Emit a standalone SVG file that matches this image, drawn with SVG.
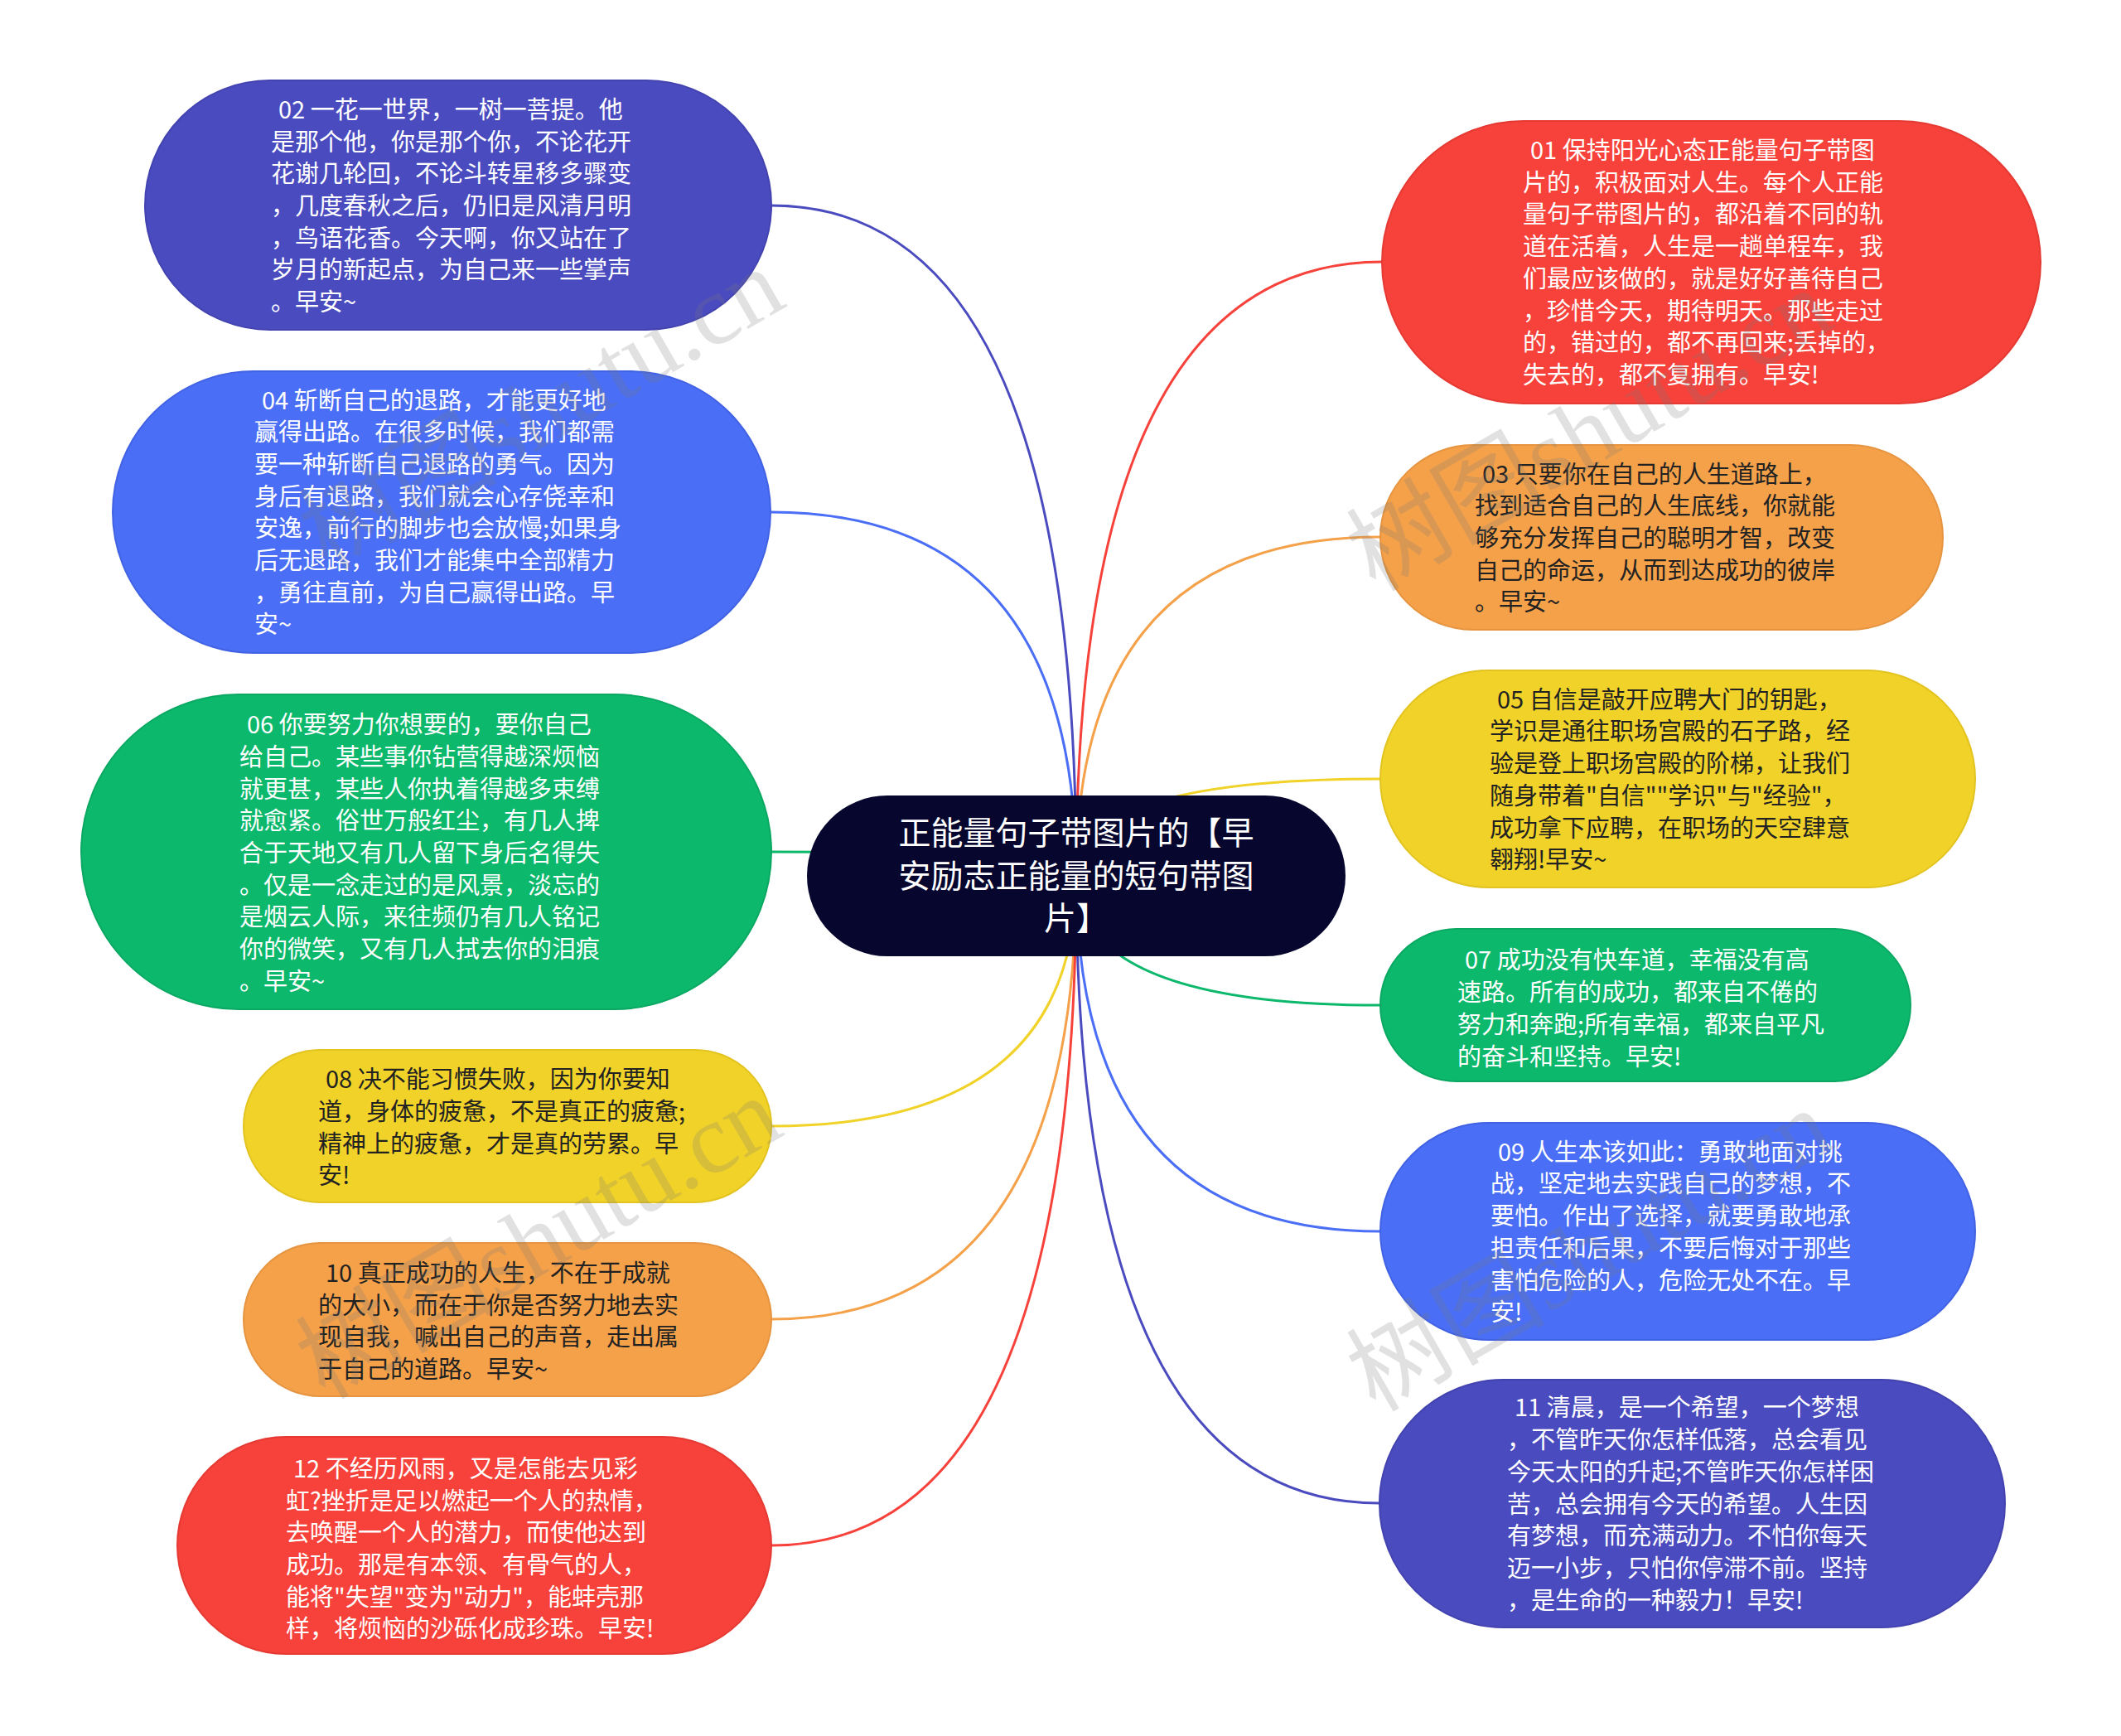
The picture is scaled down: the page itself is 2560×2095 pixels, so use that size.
<svg xmlns="http://www.w3.org/2000/svg" width="2560" height="2095" viewBox="0 0 2560 2095">
<style>
.bg{fill:#ffffff}
.c{fill:none;stroke-width:3;stroke-linecap:round}
.t{font-family:"Noto Sans CJK SC","Microsoft YaHei",sans-serif;font-size:29px}
.w{fill:#ffffff}
.d{fill:#222222}
.rt{font-family:"Noto Sans CJK SC","Microsoft YaHei",sans-serif;font-size:39px;fill:#ffffff;text-anchor:middle}
.indigo{fill:#4b4bc0;stroke:#4343b0;stroke-width:2}
.blue{fill:#4a6ef5;stroke:#4262e4;stroke-width:2}
.green{fill:#0cb86c;stroke:#0aa862;stroke-width:2}
.yellow{fill:#f1d229;stroke:#e2c320;stroke-width:2}
.orange{fill:#f4a14a;stroke:#e69440;stroke-width:2}
.red{fill:#f6423b;stroke:#e53a33;stroke-width:2}
.wm{font-family:"Liberation Serif","Noto Sans CJK SC",serif;font-size:120px;fill:#7a7a7a;opacity:0.22}
</style>
<rect class="bg" x="0" y="0" width="2560" height="2095"/>
<g id="connectors">
<path class="c" stroke="#4b4bc0" d="M1299 1057 Q1299 248 931 248"/>
<path class="c" stroke="#4a6ef5" d="M1299 1057 Q1299 618 930 618"/>
<path class="c" stroke="#0cb86c" d="M1299 1057 Q1299 1028 931 1028"/>
<path class="c" stroke="#f1d229" d="M1299 1057 Q1299 1359 931 1359"/>
<path class="c" stroke="#f4a14a" d="M1299 1057 Q1299 1592 931 1592"/>
<path class="c" stroke="#f6423b" d="M1299 1057 Q1299 1865 931 1865"/>
<path class="c" stroke="#f6423b" d="M1299 1057 Q1299 316 1668 316"/>
<path class="c" stroke="#f4a14a" d="M1299 1057 Q1299 648 1666 648"/>
<path class="c" stroke="#f1d229" d="M1299 1057 Q1299 940 1666 940"/>
<path class="c" stroke="#0cb86c" d="M1299 1057 Q1299 1213 1666 1213"/>
<path class="c" stroke="#4a6ef5" d="M1299 1057 Q1299 1486 1666 1486"/>
<path class="c" stroke="#4b4bc0" d="M1299 1057 Q1299 1814 1665 1814"/>
</g>
<g id="root">
<rect x="974" y="960" width="650" height="194" rx="97" fill="#06062e"/>
<text class="rt"><tspan x="1299" y="1019">正能量句子带图片的【早</tspan><tspan x="1299" y="1071">安励志正能量的短句带图</tspan><tspan x="1299" y="1122">片】</tspan></text>
</g>
<g id="node02">
<rect class="indigo" x="175" y="97" width="756" height="301" rx="150.5"/>
<text class="t w"><tspan x="336" y="143">02 一花一世界，一树一菩提。他</tspan><tspan x="327" y="182">是那个他，你是那个你，不论花开</tspan><tspan x="327" y="220">花谢几轮回，不论斗转星移多骤变</tspan><tspan x="327" y="259">，几度春秋之后，仍旧是风清月明</tspan><tspan x="327" y="298">，鸟语花香。今天啊，你又站在了</tspan><tspan x="327" y="336">岁月的新起点，为自己来一些掌声</tspan><tspan x="327" y="375">。早安~</tspan></text>
</g>
<g id="node04">
<rect class="blue" x="136" y="448" width="794" height="340" rx="170"/>
<text class="t w"><tspan x="316" y="494">04 斩断自己的退路，才能更好地</tspan><tspan x="307" y="532">赢得出路。在很多时候，我们都需</tspan><tspan x="307" y="571">要一种斩断自己退路的勇气。因为</tspan><tspan x="307" y="610">身后有退路，我们就会心存侥幸和</tspan><tspan x="307" y="648">安逸，前行的脚步也会放慢;如果身</tspan><tspan x="307" y="687">后无退路，我们才能集中全部精力</tspan><tspan x="307" y="726">，勇往直前，为自己赢得出路。早</tspan><tspan x="307" y="764">安~</tspan></text>
</g>
<g id="node06">
<rect class="green" x="98" y="838" width="833" height="380" rx="190"/>
<text class="t w"><tspan x="298" y="885">06 你要努力你想要的，要你自己</tspan><tspan x="289" y="924">给自己。某些事你钻营得越深烦恼</tspan><tspan x="289" y="963">就更甚，某些人你执着得越多束缚</tspan><tspan x="289" y="1001">就愈紧。俗世万般红尘，有几人捭</tspan><tspan x="289" y="1040">合于天地又有几人留下身后名得失</tspan><tspan x="289" y="1079">。仅是一念走过的是风景，淡忘的</tspan><tspan x="289" y="1117">是烟云人际，来往频仍有几人铭记</tspan><tspan x="289" y="1156">你的微笑，又有几人拭去你的泪痕</tspan><tspan x="289" y="1195">。早安~</tspan></text>
</g>
<g id="node08">
<rect class="yellow" x="294" y="1267" width="637" height="184" rx="92"/>
<text class="t d"><tspan x="393" y="1313">08 决不能习惯失败，因为你要知</tspan><tspan x="384" y="1352">道，身体的疲惫，不是真正的疲惫;</tspan><tspan x="384" y="1391">精神上的疲惫，才是真的劳累。早</tspan><tspan x="384" y="1429">安!</tspan></text>
</g>
<g id="node10">
<rect class="orange" x="294" y="1500" width="637" height="185" rx="92.5"/>
<text class="t d"><tspan x="393" y="1547">10 真正成功的人生，不在于成就</tspan><tspan x="384" y="1586">的大小，而在于你是否努力地去实</tspan><tspan x="384" y="1624">现自我，喊出自己的声音，走出属</tspan><tspan x="384" y="1663">于自己的道路。早安~</tspan></text>
</g>
<g id="node12">
<rect class="red" x="214" y="1734" width="717" height="262" rx="131"/>
<text class="t w"><tspan x="354" y="1783">12 不经历风雨，又是怎能去见彩</tspan><tspan x="345" y="1822">虹?挫折是足以燃起一个人的热情，</tspan><tspan x="345" y="1860">去唤醒一个人的潜力，而使他达到</tspan><tspan x="345" y="1899">成功。那是有本领、有骨气的人，</tspan><tspan x="345" y="1938">能将"失望"变为"动力"，能蚌壳那</tspan><tspan x="345" y="1976">样，将烦恼的沙砾化成珍珠。早安!</tspan></text>
</g>
<g id="node01">
<rect class="red" x="1668" y="146" width="795" height="341" rx="170.5"/>
<text class="t w"><tspan x="1847" y="192">01 保持阳光心态正能量句子带图</tspan><tspan x="1838" y="231">片的，积极面对人生。每个人正能</tspan><tspan x="1838" y="269">量句子带图片的，都沿着不同的轨</tspan><tspan x="1838" y="308">道在活着，人生是一趟单程车，我</tspan><tspan x="1838" y="347">们最应该做的，就是好好善待自己</tspan><tspan x="1838" y="386">，珍惜今天，期待明天。那些走过</tspan><tspan x="1838" y="424">的，错过的，都不再回来;丢掉的，</tspan><tspan x="1838" y="463">失去的，都不复拥有。早安!</tspan></text>
</g>
<g id="node03">
<rect class="orange" x="1666" y="537" width="679" height="223" rx="111.5"/>
<text class="t d"><tspan x="1789" y="583">03 只要你在自己的人生道路上，</tspan><tspan x="1780" y="621">找到适合自己的人生底线，你就能</tspan><tspan x="1780" y="660">够充分发挥自己的聪明才智，改变</tspan><tspan x="1780" y="699">自己的命运，从而到达成功的彼岸</tspan><tspan x="1780" y="737">。早安~</tspan></text>
</g>
<g id="node05">
<rect class="yellow" x="1666" y="809" width="718" height="262" rx="131"/>
<text class="t d"><tspan x="1807" y="855">05 自信是敲开应聘大门的钥匙，</tspan><tspan x="1798" y="893">学识是通往职场宫殿的石子路，经</tspan><tspan x="1798" y="932">验是登上职场宫殿的阶梯，让我们</tspan><tspan x="1798" y="971">随身带着"自信""学识"与"经验"，</tspan><tspan x="1798" y="1010">成功拿下应聘，在职场的天空肆意</tspan><tspan x="1798" y="1048">翱翔!早安~</tspan></text>
</g>
<g id="node07">
<rect class="green" x="1666" y="1121" width="640" height="184" rx="92"/>
<text class="t w"><tspan x="1768" y="1169">07 成功没有快车道，幸福没有高</tspan><tspan x="1759" y="1208">速路。所有的成功，都来自不倦的</tspan><tspan x="1759" y="1247">努力和奔跑;所有幸福，都来自平凡</tspan><tspan x="1759" y="1286">的奋斗和坚持。早安!</tspan></text>
</g>
<g id="node09">
<rect class="blue" x="1666" y="1355" width="718" height="262" rx="131"/>
<text class="t w"><tspan x="1808" y="1401">09 人生本该如此：勇敢地面对挑</tspan><tspan x="1799" y="1439">战，坚定地去实践自己的梦想，不</tspan><tspan x="1799" y="1478">要怕。作出了选择，就要勇敢地承</tspan><tspan x="1799" y="1517">担责任和后果，不要后悔对于那些</tspan><tspan x="1799" y="1556">害怕危险的人，危险无处不在。早</tspan><tspan x="1799" y="1594">安!</tspan></text>
</g>
<g id="node11">
<rect class="indigo" x="1665" y="1665" width="755" height="299" rx="149.5"/>
<text class="t w"><tspan x="1828" y="1709">11 清晨，是一个希望，一个梦想</tspan><tspan x="1819" y="1748">，不管昨天你怎样低落，总会看见</tspan><tspan x="1819" y="1787">今天太阳的升起;不管昨天你怎样困</tspan><tspan x="1819" y="1826">苦，总会拥有今天的希望。人生因</tspan><tspan x="1819" y="1864">有梦想，而充满动力。不怕你每天</tspan><tspan x="1819" y="1903">迈一小步，只怕你停滞不前。坚持</tspan><tspan x="1819" y="1942">，是生命的一种毅力！早安!</tspan></text>
</g>
<g id="watermarks">
<text class="wm" transform="translate(395 690) rotate(-30)">树图shutu.cn</text>
<text class="wm" transform="translate(1660 715) rotate(-30)">树图shutu.cn</text>
<text class="wm" transform="translate(392 1690) rotate(-30)">树图shutu.cn</text>
<text class="wm" transform="translate(1660 1705) rotate(-30)">树图shutu.cn</text>
</g>
</svg>
